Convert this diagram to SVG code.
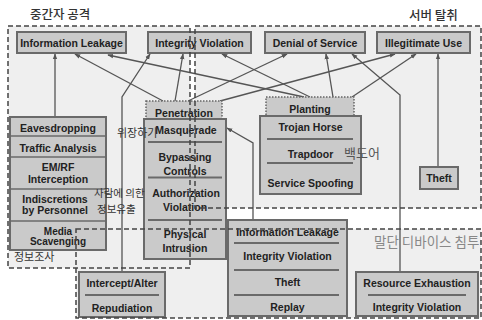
<svg xmlns="http://www.w3.org/2000/svg" width="482" height="320" viewBox="0 0 482 320">
  <defs>
    <marker id="arrow" viewBox="0 0 8 8" refX="7" refY="4" markerWidth="6" markerHeight="6" orient="auto" markerUnits="userSpaceOnUse">
      <path d="M0,1 L8,4 L0,7 Z" fill="#555"/>
    </marker>
    <style>
      .zone { fill: #efefef; stroke: none; }
      .zone-edge { fill: none; stroke: #444; stroke-width: 1.5; stroke-dasharray: 5 3; }
      .box { fill: #cacaca; stroke: #6a6a6a; stroke-width: 2; }
      .box-dot { fill: #cacaca; stroke: #666; stroke-width: 1.5; stroke-dasharray: 1.5 1.5; }
      .sep { stroke: #6a6a6a; stroke-width: 2; }
      .sep-thin { stroke: #6a6a6a; stroke-width: 1.5; }
      .lbl { font-family: "Liberation Sans", Arial, sans-serif; font-weight: bold; font-size: 10.5px; fill: #222; text-anchor: middle; }
      .tight { font-size: 10px; }
      .kr { font-family: "Noto Sans CJK KR", sans-serif; fill: #333; font-size: 11px; }
      .title { font-family: "Noto Sans CJK KR", sans-serif; fill: #333; font-size: 12.5px; font-weight: 500; }
      .link { fill: none; stroke: #555; stroke-width: 1.3; marker-end: url(#arrow); }
    </style>
  </defs>

  <rect width="482" height="320" fill="#ffffff"/>

  <!-- zone backgrounds -->
  <rect class="zone" x="8" y="26" width="182" height="242"/>
  <rect class="zone" x="195" y="26" width="286" height="182"/>
  <rect class="zone" x="76" y="229" width="405" height="89"/>

  <!-- zone titles -->
  <text class="title" x="30" y="19">중간자 공격</text>
  <text class="title" x="409" y="20">서버 탈취</text>
  <text class="title" x="374" y="247" style="fill:#888;font-size:13.5px;font-weight:normal">말단 디바이스 침투</text>

  <!-- connectors -->
  <g id="connectors">
    <path class="link" d="M55,117 L55,54"/>
    <path class="link" d="M122,272 L122,97 L150,54"/>
    <path class="link" d="M163,101 L75,54"/>
    <path class="link" d="M175,101 L183,54"/>
    <path class="link" d="M188,101 L287,54"/>
    <path class="link" d="M220,101 L395,54"/>
    <path class="link" d="M304,97 L108,55"/>
    <path class="link" d="M310,97 L222,54"/>
    <path class="link" d="M333,97 L326,54"/>
    <path class="link" d="M352,97 L416,54"/>
    <path class="link" d="M400,272 L400,95 L352,54"/>
    <path class="link" d="M438,167 L438,54"/>
    <path class="link" d="M253,220 L253,143 L227,128"/>
  </g>

  <!-- top row -->
  <g id="info-leakage">
    <rect class="box" x="17" y="32" width="109" height="21"/>
    <text class="lbl" x="71.5" y="46.5">Information Leakage</text>
  </g>
  <g id="integrity-violation">
    <rect class="box" x="148" y="32" width="103" height="21"/>
    <text class="lbl" x="199.5" y="46.5">Integrity Violation</text>
  </g>
  <g id="denial-of-service">
    <rect class="box" x="265" y="32" width="100" height="21"/>
    <text class="lbl" x="315" y="46.5">Denial of Service</text>
  </g>
  <g id="illegitimate-use">
    <rect class="box" x="377" y="32" width="93" height="21"/>
    <text class="lbl" x="423.5" y="46.5">Illegitimate Use</text>
  </g>

  <!-- penetration group -->
  <g id="penetration">
    <rect class="box-dot" x="146" y="101" width="76" height="22"/>
    <text class="lbl" x="184" y="116.5">Penetration</text>
  </g>
  <g id="masquerade-stack">
    <rect class="box" x="144" y="119" width="82" height="140"/>
    <text class="lbl" x="186" y="134">Masquerade</text>
    <line class="sep" x1="148" y1="142" x2="222" y2="142"/>
    <text class="lbl" x="185" y="161">Bypassing</text>
    <text class="lbl" x="185" y="175">Controls</text>
    <line class="sep" x1="148" y1="177.5" x2="222" y2="177.5"/>
    <text class="lbl" x="186" y="197">Authorization</text>
    <text class="lbl" x="185" y="211">Violation</text>
    <line class="sep" x1="148" y1="220" x2="222" y2="220"/>
    <text class="lbl" x="185" y="238">Physical</text>
    <text class="lbl" x="185" y="252">Intrusion</text>
  </g>

  <!-- planting group -->
  <g id="planting">
    <rect class="box-dot" x="266" y="97" width="88" height="20"/>
    <text class="lbl" x="310" y="112.5">Planting</text>
  </g>
  <g id="trojan-stack">
    <rect class="box" x="260" y="116" width="101" height="78"/>
    <text class="lbl" x="310.5" y="131">Trojan Horse</text>
    <line class="sep" x1="267" y1="139" x2="353" y2="139"/>
    <text class="lbl" x="310.5" y="157.5">Trapdoor</text>
    <line class="sep" x1="267" y1="163" x2="353" y2="163"/>
    <text class="lbl" x="310.5" y="187">Service Spoofing</text>
  </g>

  <g id="theft">
    <rect class="box" x="420" y="167" width="38" height="22"/>
    <text class="lbl" x="439" y="182">Theft</text>
  </g>

  <!-- eavesdropping stack -->
  <g id="eavesdropping-stack">
    <rect class="box" x="10" y="117" width="96" height="133"/>
    <text class="lbl" x="58" y="131.5">Eavesdropping</text>
    <line class="sep-thin" x1="10" y1="136" x2="106" y2="136"/>
    <text class="lbl" x="58" y="152">Traffic Analysis</text>
    <line class="sep-thin" x1="10" y1="157" x2="106" y2="157"/>
    <text class="lbl" x="58" y="171">EM/RF</text>
    <text class="lbl" x="58" y="183">Interception</text>
    <line class="sep-thin" x1="10" y1="189" x2="106" y2="189"/>
    <text class="lbl" x="55" y="202.5">Indiscretions</text>
    <text class="lbl" x="55" y="213.5">by Personnel</text>
    <line class="sep-thin" x1="10" y1="221" x2="106" y2="221"/>
    <text class="lbl tight" x="58" y="234.5">Media</text>
    <text class="lbl tight" x="58" y="245">Scavenging</text>
  </g>

  <!-- end device stacks -->
  <g id="intercept-stack">
    <rect class="box" x="79" y="272" width="86" height="45"/>
    <text class="lbl" x="122" y="287">Intercept/Alter</text>
    <line class="sep" x1="85" y1="295" x2="159" y2="295"/>
    <text class="lbl" x="122" y="312">Repudiation</text>
  </g>
  <g id="device-threat-stack">
    <rect class="box" x="228" y="220" width="119" height="96"/>
    <text class="lbl" x="287.5" y="236">Information Leakage</text>
    <line class="sep" x1="234" y1="243" x2="339" y2="243"/>
    <text class="lbl" x="287.5" y="260">Integrity Violation</text>
    <line class="sep" x1="234" y1="270" x2="339" y2="270"/>
    <text class="lbl" x="287.5" y="286">Theft</text>
    <line class="sep" x1="234" y1="295" x2="339" y2="295"/>
    <text class="lbl" x="287.5" y="311">Replay</text>
  </g>
  <g id="resource-stack">
    <rect class="box" x="356" y="272" width="122" height="44"/>
    <text class="lbl" x="417" y="287">Resource Exhaustion</text>
    <line class="sep" x1="368" y1="295" x2="466" y2="295"/>
    <text class="lbl" x="417" y="311">Integrity Violation</text>
  </g>

  <!-- Korean annotations -->
  <text class="kr" x="117" y="137">위장하기</text>
  <text class="kr" x="94" y="197" style="font-size:10.5px">사람에 의한</text>
  <text class="kr" x="97" y="213" style="font-size:10.5px">정보유출</text>
  <text class="kr" x="14" y="261">정보조사</text>
  <text class="kr" x="344" y="158" style="font-size:13px;fill:#555">백도어</text>

  <!-- zone outlines on top -->
  <rect class="zone-edge" x="8" y="26" width="182" height="242"/>
  <rect class="zone-edge" x="195" y="26" width="286" height="182"/>
  <rect class="zone-edge" x="76" y="229" width="405" height="89"/>
</svg>
